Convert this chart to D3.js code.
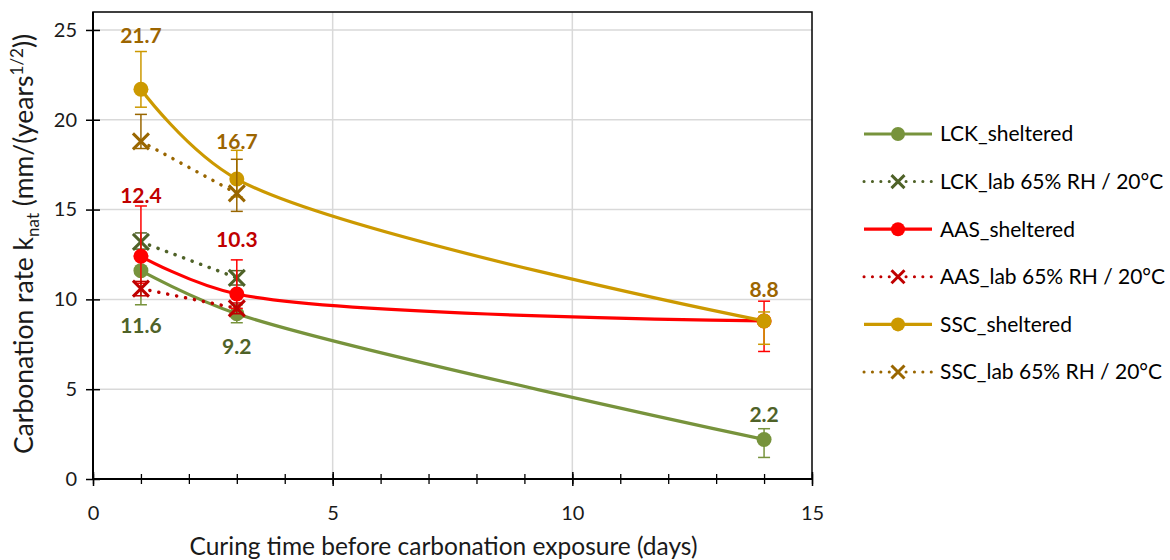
<!DOCTYPE html>
<html>
<head>
<meta charset="utf-8">
<script src="https://cdn.jsdelivr.net/npm/d3@7"></script>
<style>
  html, body { margin: 0; padding: 0; background: #fff; }
  svg { display: block; font-family: Lato, "Open Sans", sans-serif; }
</style>
</head>
<body>
<svg id="chart" width="1170" height="560"></svg>
<script>
// ---------------- DATA ----------------
const xDays = [1, 3, 14];
const xDaysLab = [1, 3];

const seriesNames = [
  "LCK_sheltered",
  "LCK_lab 65% RH / 20°C",
  "AAS_sheltered",
  "AAS_lab 65% RH / 20°C",
  "SSC_sheltered",
  "SSC_lab 65% RH / 20°C"
];

const lckSheltered = [11.6, 9.2, 2.2];
const lckLab = [13.2, 11.2];
const aasSheltered = [12.4, 10.3, 8.8];
const aasLab = [10.6, 9.5];
const sscSheltered = [21.7, 16.7, 8.8];
const sscLab = [18.8, 15.9];

// error bars (plus / minus)
const lckShelteredErrPlus = [0.9, 0.5, 0.6];
const lckShelteredErrMinus = [1.9, 0.5, 1.0];
const lckLabErrPlus = [0.5, 0.4];
const lckLabErrMinus = [0.4, 0.4];
const aasShelteredErrPlus = [2.8, 1.9, 1.1];
const aasShelteredErrMinus = [1.5, 0.8, 1.7];
const aasLabErrPlus = [0.4, 0.3];
const aasLabErrMinus = [0.4, 0.3];
const sscShelteredErrPlus = [2.1, 1.6, 0.5];
const sscShelteredErrMinus = [1.0, 1.0, 1.3];
const sscLabErrPlus = [1.5, 1.9];
const sscLabErrMinus = [0.4, 1.0];

const yTicks = [0, 5, 10, 15, 20, 25];
const xTicks = [0, 5, 10, 15];
const xMinorTicks = [0,1,2,3,4,5,6,7,8,9,10,11,12,13,14,15];

const xTitle = "Curing time before carbonation exposure (days)";

// ---------------- STYLE ----------------
const colors = {
  lckS: "#77933C", lckL: "#4F6228",
  aasS: "#FF0000", aasL: "#C00000",
  sscS: "#CC9900", sscL: "#996600"
};
const labelColors = { lck: "#4F6228", aas: "#C00000", ssc: "#9C6500" };

const series = [
  { name: seriesNames[0], x: xDays, y: lckSheltered, ep: lckShelteredErrPlus, em: lckShelteredErrMinus, color: colors.lckS, marker: "circle", dotted: false, smooth: true,
    labels: { color: labelColors.lck, offsets: [55, 33, -25], show: [true, true, true] } },
  { name: seriesNames[1], x: xDaysLab, y: lckLab, ep: lckLabErrPlus, em: lckLabErrMinus, color: colors.lckL, marker: "cross", dotted: true, smooth: false },
  { name: seriesNames[2], x: xDays, y: aasSheltered, ep: aasShelteredErrPlus, em: aasShelteredErrMinus, color: colors.aasS, marker: "circle", dotted: false, smooth: true,
    labels: { color: labelColors.aas, offsets: [-61, -55, -31], show: [true, true, false] } },
  { name: seriesNames[3], x: xDaysLab, y: aasLab, ep: aasLabErrPlus, em: aasLabErrMinus, color: colors.aasL, marker: "cross", dotted: true, smooth: false },
  { name: seriesNames[4], x: xDays, y: sscSheltered, ep: sscShelteredErrPlus, em: sscShelteredErrMinus, color: colors.sscS, marker: "circle", dotted: false, smooth: true,
    labels: { color: labelColors.ssc, offsets: [-54, -38, -31], show: [true, true, true] } },
  { name: seriesNames[5], x: xDaysLab, y: sscLab, ep: sscLabErrPlus, em: sscLabErrMinus, color: colors.sscL, marker: "cross", dotted: true, smooth: false }
];

// ---------------- LAYOUT ----------------
const svg = d3.select("#chart");
const plot = { left: 93, right: 812, top: 12, bottom: 479 };

const x = d3.scaleLinear().domain([0, 15]).range([plot.left, plot.right]);
const y = d3.scaleLinear().domain([0, 26]).range([plot.bottom, plot.top]);

// gridlines
const grid = svg.append("g");
grid.selectAll("line.h").data(yTicks.filter(t => t > 0)).enter().append("line")
  .attr("x1", plot.left).attr("x2", plot.right)
  .attr("y1", d => y(d)).attr("y2", d => y(d))
  .attr("stroke", "#D9D9D9").attr("stroke-width", 1.5);
grid.selectAll("line.v").data(xTicks.filter(t => t > 0 && t < 15)).enter().append("line")
  .attr("y1", plot.top).attr("y2", plot.bottom)
  .attr("x1", d => x(d)).attr("x2", d => x(d))
  .attr("stroke", "#D9D9D9").attr("stroke-width", 1.5);

// plot border
svg.append("rect")
  .attr("x", plot.left).attr("y", plot.top)
  .attr("width", plot.right - plot.left).attr("height", plot.bottom - plot.top)
  .attr("fill", "none").attr("stroke", "#000").attr("stroke-width", 1.5);

// axes via d3 axis generators
const xAxisMinor = d3.axisBottom(x).tickValues(xMinorTicks).tickSize(5).tickFormat("");
const gxm = svg.append("g").attr("transform", `translate(0,${plot.bottom})`).call(xAxisMinor);
gxm.select(".domain").remove();
gxm.selectAll(".tick line").attr("y1", -5).attr("y2", 5).attr("stroke", "#000").attr("stroke-width", 1.3);

const xAxis = d3.axisBottom(x).tickValues(xTicks).tickSize(7).tickPadding(20);
const gx = svg.append("g").attr("transform", `translate(0,${plot.bottom})`).call(xAxis);
gx.select(".domain").attr("stroke", "#000").attr("stroke-width", 2).attr("d", `M${plot.left},0H${plot.right}`);
gx.selectAll(".tick line").attr("y1", -7).attr("y2", 7).attr("stroke", "#000").attr("stroke-width", 1.5);
gx.selectAll(".tick text").attr("font-family", "Lato, sans-serif").attr("font-size", 20).attr("fill", "#1a1a1a");

const yAxis = d3.axisLeft(y).tickValues(yTicks).tickSize(7).tickPadding(9);
const gy = svg.append("g").attr("transform", `translate(${plot.left},0)`).call(yAxis);
gy.select(".domain").attr("stroke", "#000").attr("stroke-width", 2).attr("d", `M0,${plot.bottom}V${plot.top}`);
gy.selectAll(".tick line").attr("x1", -7).attr("x2", 7).attr("stroke", "#000").attr("stroke-width", 1.5);
gy.selectAll(".tick text").attr("font-family", "Lato, sans-serif").attr("font-size", 20).attr("fill", "#1a1a1a");

// axis titles
svg.append("text")
  .attr("x", (plot.left + plot.right) / 2 - 9).attr("y", 555)
  .attr("text-anchor", "middle")
  .attr("font-size", 24.5).attr("fill", "#1a1a1a")
  .text(xTitle);

const yt = svg.append("text")
  .attr("transform", `translate(33,244) rotate(-90)`)
  .attr("text-anchor", "middle")
  .attr("font-size", 26.5).attr("fill", "#1a1a1a");
yt.append("tspan").text("Carbonation rate k");
yt.append("tspan").attr("dy", 6).attr("font-size", 17).text("nat");
yt.append("tspan").attr("dy", -6).text(" (mm/(years");
yt.append("tspan").attr("dy", -10).attr("font-size", 17).text("1/2");
yt.append("tspan").attr("dy", 10).text("))");

// ---------------- SERIES ----------------
const dataFor = s => s.x.map((xv, i) => ({ x: xv, y: s.y[i], ep: s.ep[i], em: s.em[i] }));

const lineSmooth = d3.line().x(d => x(d.x)).y(d => y(d.y)).curve(d3.curveCatmullRom.alpha(0.5));
const lineStraight = d3.line().x(d => x(d.x)).y(d => y(d.y));

// lines
series.forEach(s => {
  const p = svg.append("path")
    .datum(dataFor(s))
    .attr("d", s.smooth ? lineSmooth : lineStraight)
    .attr("fill", "none")
    .attr("stroke", s.color);
  if (s.dotted) {
    p.attr("stroke-width", 3.5).attr("stroke-linecap", "round").attr("stroke-dasharray", "0.1,9");
  } else {
    p.attr("stroke-width", 3.2).attr("stroke-linecap", "round");
  }
});

function drawMarker(g, type, cx, cy, color, size) {
  if (type === "circle") {
    g.append("circle").attr("cx", cx).attr("cy", cy).attr("r", size).attr("fill", color);
  } else {
    const h = size;
    g.append("path")
      .attr("d", `M${cx - h},${cy - h}L${cx + h},${cy + h}M${cx - h},${cy + h}L${cx + h},${cy - h}`)
      .attr("stroke", color).attr("stroke-width", 3).attr("fill", "none");
  }
}

// error bars + markers per series
series.forEach(s => {
  const g = svg.append("g");
  const d = dataFor(s);
  d.forEach(pt => {
    const px = x(pt.x);
    const yTop = y(pt.y + pt.ep), yBot = y(pt.y - pt.em);
    g.append("line").attr("x1", px).attr("x2", px).attr("y1", yTop).attr("y2", yBot)
      .attr("stroke", s.color).attr("stroke-width", 1.5);
    [yTop, yBot].forEach(yy => g.append("line").attr("x1", px - 6).attr("x2", px + 6)
      .attr("y1", yy).attr("y2", yy).attr("stroke", s.color).attr("stroke-width", 1.5));
  });
  d.forEach(pt => drawMarker(g, s.marker, x(pt.x), y(pt.y), s.color, s.marker === "circle" ? 7.5 : 8));
});

// data labels
series.filter(s => s.labels).forEach(s => {
  dataFor(s).forEach((pt, i) => {
    if (!s.labels.show[i]) return;
    svg.append("text")
      .attr("x", x(pt.x)).attr("y", y(pt.y) + s.labels.offsets[i])
      .attr("dy", "0.36em")
      .attr("text-anchor", "middle")
      .attr("font-weight", "bold").attr("font-size", 21)
      .attr("fill", s.labels.color)
      .text(pt.y.toFixed(1));
  });
});

// ---------------- LEGEND ----------------
const legendRowY = d3.scalePoint().domain(seriesNames).range([134, 372]);
const leg = svg.append("g");
series.forEach(s => {
  const ly = legendRowY(s.name);
  const lg = leg.append("g");
  const ln = lg.append("line").attr("x1", 864).attr("x2", 932).attr("y1", ly).attr("y2", ly).attr("stroke", s.color);
  if (s.dotted) ln.attr("stroke-width", 3).attr("stroke-linecap", "round").attr("stroke-dasharray", "0.1,8.3");
  else ln.attr("stroke-width", 3.2);
  drawMarker(lg, s.marker, 898, ly, s.color, s.marker === "circle" ? 7 : 6.5);
  lg.append("text").attr("x", 940).attr("y", ly).attr("dy", "0.35em")
    .attr("font-size", 21).attr("fill", "#000").text(s.name);
});
</script>
</body>
</html>
